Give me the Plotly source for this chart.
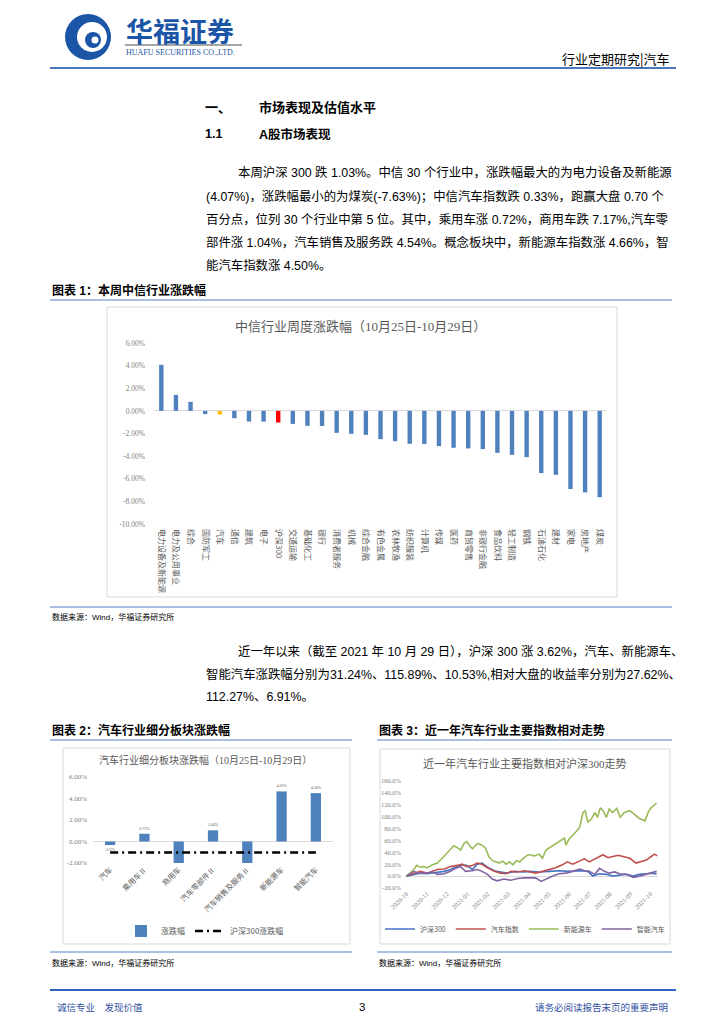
import plotly.graph_objects as go
import pandas as pd

# the page body has an 8px margin; the figure fills the rest of the 724x1024 window
OFF = 8
W, H = 724 - 2 * OFF, 1024 - 2 * OFF
def X(px): return (px - OFF) / W
def Y(py): return 1 - (py - OFF) / H

# ---------------- data: chart 1 ----------------
ind_names = ["电力设备及新能源", "电力及公用事业", "综合", "国防军工", "汽车", "通信", "建筑", "电子",
             "沪深300", "交通运输", "基础化工", "银行", "消费者服务", "机械", "综合金融", "有色金属",
             "农林牧渔", "纺织服装", "计算机", "传媒", "医药", "商贸零售", "非银行金融", "食品饮料",
             "轻工制造", "钢铁", "石油石化", "建材", "家电", "房地产", "煤炭"]
ind_chg = [4.07, 1.42, 0.80, -0.28, -0.33, -0.65, -0.94, -0.95, -1.03, -1.15, -1.32, -1.33,
           -1.94, -2.03, -2.12, -2.50, -2.68, -2.91, -2.92, -3.12, -3.26, -3.32, -3.38, -3.71,
           -3.88, -4.09, -5.50, -5.65, -6.91, -7.20, -7.63]
c1_ticks = [6, 4, 2, 0, -2, -4, -6, -8, -10]

# ---------------- data: chart 2 ----------------
sub_names = ["汽车", "乘用车Ⅱ", "商用车", "汽车零部件Ⅱ", "汽车销售及服务Ⅱ", "新能源车", "智能汽车"]
sub_chg = [-0.33, 0.72, -7.17, 1.04, -4.54, 4.66, 4.50]
hs300_chg = -1.03
c2_ticks = [6, 4, 2, 0, -2]

# ---------------- data: chart 3 ----------------
c3_start = "2020-10-29"
hs_days = [0, 11, 20, 30, 38, 45, 55, 64, 74, 81, 88, 96, 103, 110, 118, 128, 137, 147, 157, 170,
           179, 193, 208, 222, 237, 252, 264, 271, 281, 291, 300, 310, 320, 330, 339, 349, 359, 364]
hs_vals = [0, 3, 5, 4, 5, 7, 8, 11, 16, 19, 18, 11, 20, 22, 15, 9, 7, 5, 8, 7,
           8, 7, 8, 9, 8, 9, 8, 0, 4, 3, 0, 2, 3, 0, 3, 4, 5, 3]
car_days = [0, 11, 20, 30, 38, 45, 55, 64, 74, 81, 88, 96, 103, 110, 118, 128, 137, 145, 152, 162,
            172, 179, 188, 198, 208, 217, 227, 234, 242, 252, 259, 266, 271, 278, 286, 293, 300, 308,
            315, 325, 334, 342, 349, 356, 361, 365]
car_vals = [0, 4, 8, 5, 8, 11, 12, 16, 18, 20, 16, 18, 22, 20, 14, 8, 5, 4, 8, 7,
            9, 7, 5, 8, 11, 14, 19, 24, 20, 26, 29, 24, 27, 31, 36, 31, 33, 35,
            33, 30, 22, 24, 27, 33, 37, 34]
nev_days = [0, 11, 15, 20, 25, 30, 38, 45, 52, 57, 64, 69, 74, 79, 84, 88, 92, 96, 100, 104,
            110, 115, 120, 125, 130, 135, 140, 145, 150, 155, 160, 165, 170, 177, 179, 186, 193, 198,
            203, 210, 217, 225, 230, 232, 237, 244, 252, 257, 260, 264, 269, 274, 278, 282, 286, 291,
            295, 300, 306, 311, 317, 325, 332, 339, 347, 352, 356, 364]
nev_vals = [0, 11, 18, 15, 16, 14, 19, 22, 30, 36, 44, 51, 48, 44, 55, 58, 51, 46, 51, 55,
            52, 47, 33, 26, 24, 22, 25, 20, 24, 19, 26, 24, 30, 36, 36, 34, 37, 30,
            44, 49, 55, 60, 64, 52, 63, 71, 82, 107, 110, 91, 96, 107, 99, 115, 110, 99,
            113, 107, 114, 99, 107, 110, 104, 97, 93, 108, 115, 123]
smart_days = [0, 11, 17, 30, 38, 45, 55, 64, 71, 79, 86, 96, 103, 110, 118, 125, 132, 142, 152, 162,
              172, 179, 188, 196, 203, 213, 222, 232, 242, 252, 259, 266, 274, 281, 288, 295, 303, 310,
              320, 330, 339, 349, 356, 364]
smart_vals = [0, 8, 5, 5, 7, 3, 4, 8, 13, 16, 8, 9, 11, 8, 3, -5, -8, -5, -7, -4,
              -3, -3, -3, -9, -5, 0, 4, 5, 8, 12, 9, 8, 3, 13, 8, 5, 7, 4,
              3, -2, 0, 3, 5, 8]
c3_tick_days = [0, 30, 59, 89, 118, 148, 178, 207, 237, 266, 296, 326, 355]
c3_tick_text = ["2020-10", "2020-11", "2020-12", "2021-01", "2021-02", "2021-03", "2021-04",
                "2021-05", "2021-06", "2021-07", "2021-08", "2021-09", "2021-10"]
c3_yticks = [160, 140, 120, 100, 80, 60, 40, 20, 0, -20]

# ---------------- text ----------------
para1 = ["本周沪深 300 跌 1.03%。中信 30 个行业中，涨跌幅最大的为电力设备及新能源",
         "(4.07%)，涨跌幅最小的为煤炭(-7.63%)；中信汽车指数跌 0.33%，跑赢大盘 0.70 个",
         "百分点，位列 30 个行业中第 5 位。其中，乘用车涨 0.72%，商用车跌 7.17%,汽车零",
         "部件涨 1.04%，汽车销售及服务跌 4.54%。概念板块中，新能源车指数涨 4.66%，智",
         "能汽车指数涨 4.50%。"]
para2 = ["近一年以来（截至 2021 年 10 月 29 日），沪深 300 涨 3.62%，汽车、新能源车、",
         "智能汽车涨跌幅分别为31.24%、115.89%、10.53%,相对大盘的收益率分别为27.62%、",
         "112.27%、6.91%。"]

BODY = "Liberation Sans, Noto Sans CJK SC"
CJK = "Noto Sans CJK SC"
CH = "Liberation Serif, Noto Sans CJK SC"
GREY = "#595959"
BLUE = "#4f81bd"

fig = go.Figure()

# chart 1 bars
c1_colors = ["#ffc000" if n == "汽车" else ("#ff0000" if n == "沪深300" else BLUE) for n in ind_names]
fig.add_trace(go.Bar(x=ind_names, y=ind_chg, marker=dict(color=c1_colors, line=dict(width=0)),
                     xaxis="x", yaxis="y", showlegend=False, hoverinfo="skip"))

# chart 2 bars + line
fig.add_trace(go.Bar(x=sub_names, y=sub_chg, name="涨跌幅", marker=dict(color=BLUE, line=dict(width=0)),
                     text=[f"{v:.2f}%" if v > c2_ticks[-1] else "" for v in sub_chg],
                     textposition="outside", cliponaxis=False,
                     textfont=dict(size=7.5, color=GREY, family=CH),
                     xaxis="x2", yaxis="y2", legend="legend2", hoverinfo="skip"))
fig.add_trace(go.Scatter(x=sub_names, y=[hs300_chg for _ in sub_names], name="沪深300涨跌幅",
                         mode="lines", line=dict(color="black", width=2.5, dash="8px,4px,2px,4px"),
                         xaxis="x2", yaxis="y2", legend="legend2", hoverinfo="skip"))

# chart 3 lines
start = pd.Timestamp(c3_start)
def dates(days):
    return [start + pd.Timedelta(days=d) for d in days]
for nm, dd, vv, col in [("沪深300", hs_days, hs_vals, "#4472c4"),
                        ("汽车指数", car_days, car_vals, "#c0504d"),
                        ("新能源车", nev_days, nev_vals, "#9bbb59"),
                        ("智能汽车", smart_days, smart_vals, "#8064a2")]:
    fig.add_trace(go.Scatter(x=dates(dd), y=vv, name=nm, mode="lines",
                             line=dict(color=col, width=1.6), xaxis="x3", yaxis="y3",
                             legend="legend3", hoverinfo="skip"))

tickfont_small = dict(size=7.5, color="#7f7f7f", family=CH)
fig.update_layout(
    width=W, height=H, margin=dict(l=0, r=0, t=0, b=0, autoexpand=False),
    paper_bgcolor="white", plot_bgcolor="rgba(0,0,0,0)",
    bargap=0.7,
    xaxis=dict(domain=[X(154), X(607)], anchor="y", showgrid=False, showline=False, ticks="",
               tickangle=90, tickfont=dict(size=8, color=GREY, family=CJK), automargin=False,
               ticklabelstandoff=4),
    yaxis=dict(domain=[Y(524), Y(343)], anchor="x", range=[-10, 6], showgrid=False, zeroline=True,
               zerolinecolor="#d9d9d9", zerolinewidth=1, tickvals=c1_ticks,
               ticktext=[f"{v:.2f}%" for v in c1_ticks], tickfont=tickfont_small, ticks="",
               ticklabelstandoff=8, automargin=False),
    xaxis2=dict(domain=[X(93), X(333)], anchor="y2", showgrid=False, showline=False, ticks="",
                tickangle=-45, tickfont=dict(size=7.5, color=GREY, family=CJK), automargin=False),
    yaxis2=dict(domain=[Y(863), Y(777)], anchor="x2", range=[-2, 6], showgrid=False, zeroline=True,
                zerolinecolor="#d9d9d9", zerolinewidth=1, tickvals=c2_ticks,
                ticktext=[f"{v:.2f}%" for v in c2_ticks], tickfont=dict(size=7, color="#7f7f7f", family=CH),
                ticks="", ticklabelstandoff=5, automargin=False),
    xaxis3=dict(domain=[X(405), X(658)], anchor="y3", type="date",
                range=[start - pd.Timedelta(days=2), start + pd.Timedelta(days=366)],
                tickvals=dates(c3_tick_days), ticktext=c3_tick_text, tickangle=-45,
                showgrid=False, showline=False, ticks="", automargin=False,
                tickfont=dict(size=6.5, color="#7f7f7f", family=CH)),
    yaxis3=dict(domain=[Y(888), Y(781)], anchor="x3", range=[-20, 160], showgrid=False, zeroline=True,
                zerolinecolor="#d9d9d9", zerolinewidth=1, tickvals=c3_yticks,
                ticktext=[f"{v:.1f}%" for v in c3_yticks], automargin=False,
                tickfont=dict(size=6.5, color="#7f7f7f", family=CH), ticks="", ticklabelstandoff=3),
    legend2=dict(orientation="h", x=X(205), y=Y(931), xanchor="center", yanchor="middle",
                 font=dict(size=8, color=GREY, family=CJK), bgcolor="rgba(0,0,0,0)",
                 itemwidth=30, tracegroupgap=0),
    legend3=dict(orientation="h", x=X(525), y=Y(929), xanchor="center", yanchor="middle",
                 font=dict(size=7, color=GREY, family=CJK), bgcolor="rgba(0,0,0,0)",
                 itemwidth=30, tracegroupgap=0),
)

shapes = []
def hline(x0, x1, y, color, width):
    shapes.append(dict(type="line", xref="paper", yref="paper", x0=X(x0), x1=X(x1), y0=Y(y), y1=Y(y),
                       line=dict(color=color, width=width)))
def rect(x0, y0, x1, y1, color="#d9d9d9", fill="rgba(0,0,0,0)", width=1):
    shapes.append(dict(type="rect", xref="paper", yref="paper", x0=X(x0), x1=X(x1), y0=Y(y1), y1=Y(y0),
                       line=dict(color=color, width=width), fillcolor=fill, layer="below"))
def circ(cx, cy, r, fill):
    shapes.append(dict(type="circle", xref="paper", yref="paper", x0=X(cx - r), x1=X(cx + r),
                       y0=Y(cy + r), y1=Y(cy - r), line=dict(width=0), fillcolor=fill, layer="above"))

# logo
LOGO = "#1a55a6"
circ(88, 37, 23, LOGO)
circ(92, 37, 15, "white")
circ(93, 40, 8, LOGO)
circ(95, 40, 3.5, "white")
hline(125, 242, 45, "#a6a6a6", 2)

hline(50, 676, 68, "#4a76c0", 2.2)
hline(50, 672, 300, "#8eaadb", 1.5)
hline(50, 672, 607, "#8eaadb", 1.5)
hline(50, 352, 740, "#8eaadb", 1.5)
hline(377, 672, 740, "#8eaadb", 1.5)
hline(50, 352, 952, "#8eaadb", 1.5)
hline(377, 672, 952, "#8eaadb", 1.5)
hline(50, 676, 990, "#2f62c0", 2.2)

rect(107, 307, 617, 597)
rect(63, 748, 350, 944)
rect(380, 749, 670, 944)

anns = []
def txt(x, y, s, size, color="black", family=BODY, anchor="left"):
    anns.append(dict(x=X(x), y=Y(y), xref="paper", yref="paper", text=s, showarrow=False,
                     xanchor=anchor, yanchor="middle", font=dict(size=size, color=color, family=family)))

txt(124, 30, "<b>华福证券</b>", 27, LOGO, CJK)
txt(124, 53, "HUAFU SECURITIES CO.,LTD.", 8, LOGO, "Liberation Serif")
txt(672, 58, "行业定期研究|汽车", 13, "black", CJK, "right")

txt(203, 107, "<b>一、</b>", 13, "black", CJK)
txt(257, 107, "<b>市场表现及估值水平</b>", 13, "black", CJK)
txt(203, 134, "<b>1.1</b>", 12.5, "black", "Liberation Sans")
txt(257, 134, "<b>A股市场表现</b>", 12.5, "black", BODY)

for i, line in enumerate(para1):
    txt(236 if i == 0 else 204, 173 + i * 23, line, 12.4, "black", BODY)
for i, line in enumerate(para2):
    txt(236 if i == 0 else 204, 651 + i * 23, line, 12.4, "black", BODY)

txt(50, 290, "<b>图表 1：本周中信行业涨跌幅</b>", 12, "black", BODY)
txt(50, 617, "数据来源：Wind，华福证券研究所", 8, "black", BODY)
txt(50, 730, "<b>图表 2：汽车行业细分板块涨跌幅</b>", 12, "black", BODY)
txt(377, 730, "<b>图表 3：近一年汽车行业主要指数相对走势</b>", 12, "black", BODY)
txt(50, 963, "数据来源：Wind，华福证券研究所", 8, "black", BODY)
txt(377, 963, "数据来源：Wind，华福证券研究所", 8, "black", BODY)

txt(360, 326, "中信行业周度涨跌幅（10月25日-10月29日）", 13, GREY, CH, "center")
txt(205, 760, "汽车行业细分板块涨跌幅（10月25日-10月29日）", 10, GREY, CH, "center")
txt(525, 763, "近一年汽车行业主要指数相对沪深300走势", 11, GREY, CH, "center")

txt(55, 1007, "诚信专业　发现价值", 9.5, "#2f4f9f", CJK)
txt(362, 1007, "3", 11.5, "black", "Liberation Sans", "center")
txt(670, 1007, "请务必阅读报告末页的重要声明", 9.5, "#2f4f9f", CJK, "right")

fig.update_layout(shapes=shapes, annotations=anns)
fig.write_html("out.html")
